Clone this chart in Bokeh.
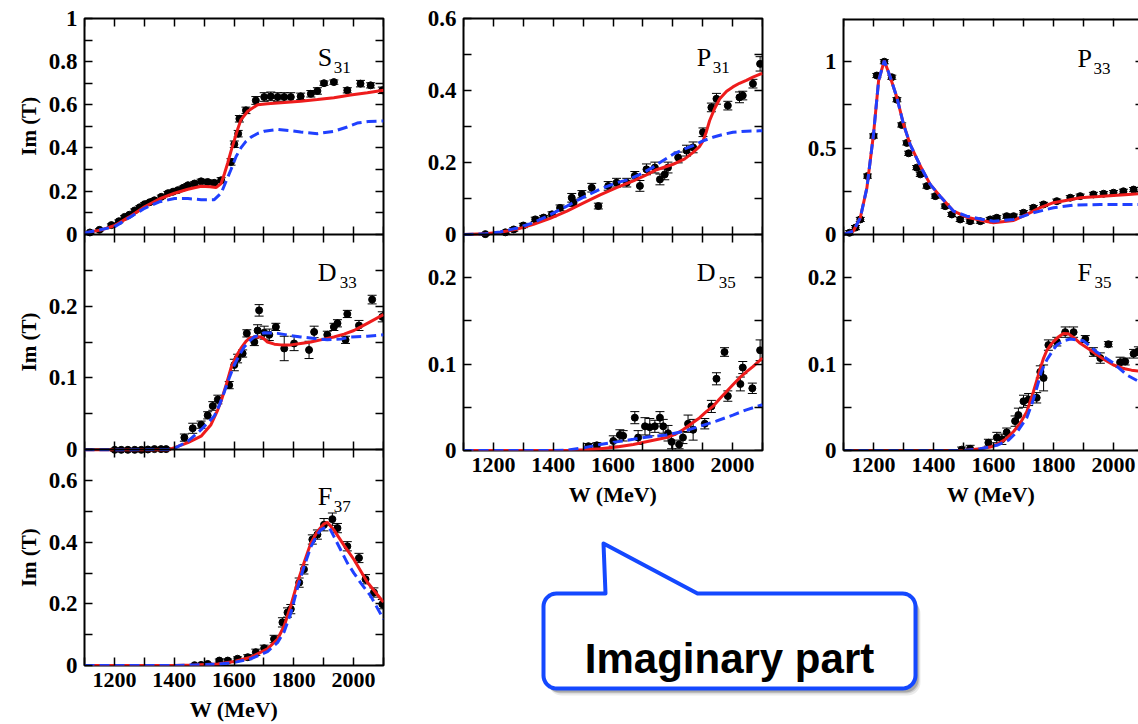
import numpy as np
from bokeh.plotting import figure
from bokeh.models import Range1d, LinearAxis, FixedTicker, NumeralTickFormatter, ColumnDataSource
from bokeh.layouts import row, column
from bokeh.embed import file_html
from bokeh.resources import INLINE
from bokeh.core.properties import value

# ======================= DATA =======================
X_MAJOR = [1200, 1400, 1600, 1800, 2000]
X_MINOR = [1100, 1300, 1500, 1700, 1900, 2100]

# ---- S31 ----
s31_w = [1118, 1150, 1190, 1215, 1234, 1250, 1268, 1285, 1301, 1318, 1334, 1357, 1379, 1396, 1412, 1430,
         1446, 1468, 1490, 1512, 1534, 1557, 1590, 1601, 1614, 1618, 1640, 1673, 1701, 1723, 1746, 1768,
         1790, 1823, 1857, 1879, 1901, 1934, 1979, 2023, 2057, 2096]
s31_v = [0.008, 0.02, 0.042, 0.06, 0.08, 0.09, 0.11, 0.125, 0.139, 0.148, 0.157, 0.173, 0.19, 0.197, 0.204, 0.215,
         0.227, 0.235, 0.245, 0.242, 0.238, 0.25, 0.335, 0.417, 0.466, 0.535, 0.574, 0.62, 0.636, 0.639, 0.636, 0.636,
         0.636, 0.639, 0.651, 0.664, 0.70, 0.705, 0.667, 0.698, 0.69, 0.667]
s31_e = [0.005, 0.005, 0.006, 0.006, 0.006, 0.006, 0.007, 0.007, 0.007, 0.007, 0.008, 0.008, 0.008, 0.008, 0.008, 0.008,
         0.008, 0.008, 0.01, 0.01, 0.01, 0.012, 0.015, 0.015, 0.015, 0.015, 0.015, 0.018, 0.02, 0.02, 0.02, 0.02,
         0.02, 0.015, 0.015, 0.015, 0.01, 0.01, 0.012, 0.015, 0.012, 0.015]
s31_rw = [1100, 1157, 1201, 1250, 1301, 1350, 1401, 1446, 1490, 1520, 1540, 1557, 1568, 1579, 1590, 1601, 1612,
          1623, 1646, 1679, 1712, 1768, 1823, 1879, 1934, 1990, 2046, 2100]
s31_rv = [0.005, 0.02, 0.04, 0.08, 0.127, 0.163, 0.19, 0.208, 0.222, 0.22, 0.216, 0.235, 0.28, 0.33, 0.385, 0.435,
          0.485, 0.53, 0.57, 0.60, 0.605, 0.61, 0.616, 0.624, 0.633, 0.645, 0.656, 0.667]
s31_bw = [1100, 1201, 1301, 1350, 1401, 1446, 1490, 1534, 1557, 1575, 1590, 1607, 1623, 1640, 1657, 1679, 1701,
          1746, 1790, 1823, 1879, 1934, 1979, 2012, 2050, 2100]
s31_bv = [0.005, 0.035, 0.12, 0.15, 0.165, 0.165, 0.16, 0.16, 0.19, 0.25, 0.30, 0.36, 0.40, 0.43, 0.45, 0.467,
          0.477, 0.486, 0.48, 0.474, 0.466, 0.477, 0.497, 0.515, 0.522, 0.525]

# ---- D33 ----
d33_w = [1201, 1223, 1245, 1268, 1290, 1312, 1334, 1356, 1373, 1434, 1462, 1490, 1512, 1529, 1546, 1584, 1601,
         1612, 1629, 1643, 1668, 1679, 1684, 1701, 1718, 1740, 1768, 1801, 1851, 1868, 1912, 1934, 1946, 1973,
         1979, 2018, 2062, 2096]
d33_v = [0.0, 0.0, 0.0, 0.0, 0.0, 0.0005, 0.001, 0.001, 0.001, 0.017, 0.03, 0.035, 0.048, 0.061, 0.07, 0.09, 0.118,
         0.127, 0.134, 0.162, 0.15, 0.166, 0.194, 0.163, 0.16, 0.171, 0.141, 0.148, 0.139, 0.164, 0.16, 0.171, 0.176,
         0.153, 0.189, 0.173, 0.209, 0.185]
d33_e = [0.002, 0.002, 0.002, 0.002, 0.002, 0.002, 0.002, 0.002, 0.002, 0.005, 0.007, 0.005, 0.005, 0.006, 0.006,
         0.005, 0.008, 0.006, 0.005, 0.005, 0.005, 0.008, 0.008, 0.009, 0.008, 0.005, 0.017, 0.01, 0.012, 0.008,
         0.005, 0.005, 0.005, 0.005, 0.005, 0.007, 0.006, 0.007]
d33_rw = [1100, 1379, 1401, 1446, 1490, 1523, 1545, 1557, 1575, 1590, 1607, 1623, 1640, 1651, 1668, 1690, 1701,
          1712, 1735, 1757, 1790, 1823, 1857, 1890, 1934, 1968, 2001, 2046, 2100]
d33_rv = [0.0, 0.0, 0.003, 0.01, 0.019, 0.035, 0.055, 0.068, 0.092, 0.114, 0.13, 0.141, 0.151, 0.155, 0.157, 0.157,
          0.154, 0.150, 0.147, 0.146, 0.146, 0.148, 0.15, 0.153, 0.157, 0.161, 0.166, 0.176, 0.188]
d33_bw = [1100, 1379, 1401, 1446, 1490, 1534, 1551, 1568, 1584, 1601, 1618, 1634, 1651, 1668, 1701, 1746, 1790,
          1823, 1868, 1912, 1957, 1990, 2046, 2100]
d33_bv = [0.0, 0.0005, 0.002, 0.012, 0.028, 0.047, 0.062, 0.081, 0.1, 0.118, 0.132, 0.143, 0.151, 0.157, 0.163,
          0.162, 0.159, 0.157, 0.155, 0.153, 0.154, 0.157, 0.158, 0.16]

# ---- F37 ----
f37_w = [1468, 1490, 1512, 1551, 1579, 1612, 1646, 1673, 1701, 1734, 1762, 1779, 1790, 1818, 1834, 1862, 1879,
         1901, 1929, 1946, 1979, 2018, 2040, 2068, 2096]
f37_v = [0.001, 0.002, 0.005, 0.016, 0.016, 0.022, 0.027, 0.043, 0.056, 0.086, 0.14, 0.172, 0.183, 0.269, 0.312,
         0.409, 0.425, 0.457, 0.475, 0.446, 0.387, 0.349, 0.28, 0.237, 0.199]
f37_e = [0.003, 0.003, 0.003, 0.005, 0.005, 0.006, 0.008, 0.01, 0.01, 0.012, 0.015, 0.015, 0.015, 0.015, 0.015,
         0.015, 0.015, 0.02, 0.02, 0.015, 0.015, 0.015, 0.015, 0.015, 0.015]
f37_rw = [1100, 1400, 1468, 1546, 1601, 1657, 1712, 1746, 1768, 1790, 1812, 1834, 1857, 1879, 1901, 1912, 1934,
          1968, 2001, 2046, 2100]
f37_rv = [0.0, 0.0, 0.002, 0.005, 0.013, 0.027, 0.054, 0.086, 0.129, 0.194, 0.269, 0.333, 0.398, 0.435, 0.46,
          0.465, 0.44, 0.39, 0.344, 0.27, 0.205]
f37_bw = [1100, 1400, 1468, 1546, 1601, 1657, 1712, 1746, 1768, 1790, 1812, 1834, 1857, 1879, 1890, 1907, 1920,
          1934, 1957, 1979, 2001, 2023, 2057, 2100]
f37_bv = [0.0, 0.0, 0.002, 0.004, 0.01, 0.022, 0.045, 0.075, 0.11, 0.17, 0.25, 0.32, 0.385, 0.425, 0.44, 0.449,
          0.445, 0.419, 0.375, 0.333, 0.3, 0.269, 0.226, 0.15]

# ---- P31 ----
p31_w = [1173, 1240, 1268, 1300, 1340, 1368, 1396, 1423, 1462, 1468, 1496, 1529, 1551, 1584, 1612, 1646, 1673,
         1690, 1712, 1740, 1757, 1773, 1784, 1818, 1846, 1868, 1901, 1929, 1946, 1984, 2023, 2034, 2068, 2092]
p31_v = [0.001, 0.006, 0.014, 0.025, 0.042, 0.047, 0.056, 0.074, 0.102, 0.088, 0.112, 0.13, 0.079, 0.135, 0.144,
         0.144, 0.163, 0.135, 0.181, 0.186, 0.153, 0.167, 0.186, 0.214, 0.233, 0.242, 0.284, 0.353, 0.377, 0.358,
         0.381, 0.386, 0.419, 0.474]
p31_e = [0.003, 0.004, 0.005, 0.006, 0.006, 0.006, 0.007, 0.008, 0.012, 0.01, 0.01, 0.012, 0.008, 0.012, 0.012,
         0.012, 0.012, 0.015, 0.015, 0.015, 0.015, 0.015, 0.015, 0.015, 0.015, 0.015, 0.012, 0.012, 0.015, 0.012,
         0.015, 0.012, 0.012, 0.02]
p31_rw = [1100, 1173, 1223, 1280, 1334, 1390, 1446, 1500, 1557, 1612, 1668, 1710, 1746, 1801, 1840, 1868, 1890,
          1901, 1912, 1923, 1940, 1957, 1980, 2001, 2023, 2046, 2068, 2090, 2100]
p31_rv = [0.0, 0.002, 0.0065, 0.015, 0.028, 0.045, 0.065, 0.087, 0.11, 0.13, 0.149, 0.165, 0.18, 0.195, 0.21,
          0.228, 0.245, 0.26, 0.285, 0.316, 0.35, 0.377, 0.398, 0.41, 0.42, 0.428, 0.437, 0.445, 0.447]
p31_bw = [1100, 1173, 1223, 1280, 1334, 1390, 1446, 1500, 1557, 1612, 1650, 1690, 1730, 1757, 1801, 1840, 1868,
          1901, 1934, 1968, 2001, 2046, 2090, 2100]
p31_bv = [0.0, 0.002, 0.007, 0.018, 0.033, 0.055, 0.079, 0.103, 0.126, 0.144, 0.152, 0.167, 0.185, 0.2, 0.223,
          0.238, 0.247, 0.26, 0.27, 0.278, 0.284, 0.287, 0.288, 0.288]

# ---- D35 ----
d35_w = [1518, 1546, 1601, 1623, 1634, 1673, 1684, 1707, 1723, 1740, 1757, 1768, 1784, 1796, 1821, 1834, 1851,
         1868, 1907, 1929, 1946, 1973, 1984, 2026, 2034, 2066, 2092]
d35_v = [0.005, 0.006, 0.011, 0.018, 0.017, 0.038, 0.015, 0.028, 0.027, 0.028, 0.038, 0.028, 0.02, 0.01, 0.007,
         0.015, 0.031, 0.024, 0.031, 0.051, 0.083, 0.114, 0.063, 0.077, 0.096, 0.072, 0.116]
d35_e = [0.003, 0.003, 0.006, 0.006, 0.006, 0.007, 0.008, 0.01, 0.01, 0.007, 0.007, 0.008, 0.009, 0.008, 0.005,
         0.007, 0.01, 0.012, 0.006, 0.007, 0.007, 0.005, 0.006, 0.008, 0.007, 0.006, 0.012]
d35_rw = [1100, 1450, 1500, 1557, 1612, 1668, 1723, 1779, 1810, 1834, 1862, 1890, 1912, 1934, 1957, 1979, 2001,
          2023, 2046, 2068, 2100]
d35_rv = [0.0, 0.0, 0.0008, 0.002, 0.004, 0.007, 0.011, 0.015, 0.019, 0.024, 0.031, 0.038, 0.045, 0.051, 0.06,
          0.068, 0.076, 0.084, 0.091, 0.097, 0.107]
d35_bw = [1100, 1400, 1446, 1500, 1557, 1612, 1668, 1723, 1779, 1834, 1890, 1945, 2001, 2046, 2100]
d35_bv = [0.0, 0.0, 0.0005, 0.003, 0.007, 0.01, 0.013, 0.016, 0.018, 0.022, 0.028, 0.034, 0.041, 0.047, 0.053]

# ---- P33 ----
p33_w = [1120, 1140, 1156, 1180, 1200, 1211, 1236, 1261, 1278, 1294, 1311, 1317, 1344, 1356, 1378, 1406, 1439,
         1461, 1489, 1522, 1556, 1589, 1611, 1644, 1667, 1700, 1733, 1767, 1811, 1856, 1889, 1933, 1967, 2000,
         2033, 2067, 2095]
p33_v = [0.01, 0.04, 0.087, 0.338, 0.57, 0.92, 1.0, 0.91, 0.78, 0.634, 0.53, 0.47, 0.387, 0.348, 0.28, 0.222,
         0.164, 0.116, 0.087, 0.077, 0.077, 0.087, 0.097, 0.106, 0.106, 0.126, 0.155, 0.174, 0.193, 0.213, 0.222,
         0.232, 0.236, 0.242, 0.25, 0.26, 0.262]
p33_e = [0.012] * len(p33_w)
p33_rw = [1100, 1133, 1156, 1178, 1200, 1217, 1236, 1256, 1278, 1300, 1322, 1356, 1389, 1422, 1467, 1511, 1556,
          1600, 1667, 1711, 1756, 1800, 1850, 1889, 1950, 2000, 2050, 2100]
p33_rv = [0.0, 0.02, 0.097, 0.27, 0.58, 0.89, 1.006, 0.91, 0.793, 0.638, 0.522, 0.397, 0.29, 0.222, 0.135, 0.10,
          0.083, 0.068, 0.081, 0.116, 0.155, 0.184, 0.2, 0.213, 0.22, 0.226, 0.232, 0.238]
p33_bw = [1100, 1133, 1156, 1178, 1200, 1217, 1236, 1256, 1278, 1300, 1322, 1356, 1389, 1422, 1467, 1511, 1556,
          1600, 1667, 1733, 1800, 1867, 1956, 2100]
p33_bv = [0.0, 0.02, 0.097, 0.27, 0.58, 0.89, 1.006, 0.91, 0.793, 0.638, 0.522, 0.397, 0.29, 0.222, 0.135, 0.106,
          0.09, 0.077, 0.087, 0.126, 0.155, 0.17, 0.174, 0.174]

# ---- F35 ----
f35_w = [1494, 1522, 1583, 1611, 1628, 1644, 1672, 1683, 1700, 1717, 1744, 1756, 1767, 1783, 1811, 1839, 1867,
         1906, 1933, 1956, 1983, 2022, 2039, 2067, 2083]
f35_v = [0.001, 0.002, 0.009, 0.015, 0.013, 0.021, 0.034, 0.041, 0.057, 0.059, 0.061, 0.091, 0.084, 0.122, 0.126,
         0.137, 0.137, 0.129, 0.114, 0.107, 0.123, 0.102, 0.103, 0.112, 0.115]
f35_e = [0.003, 0.004, 0.004, 0.006, 0.006, 0.005, 0.006, 0.008, 0.007, 0.007, 0.006, 0.007, 0.015, 0.006, 0.005,
         0.006, 0.006, 0.004, 0.005, 0.006, 0.003, 0.006, 0.004, 0.005, 0.005]
f35_rw = [1100, 1500, 1556, 1590, 1611, 1640, 1667, 1690, 1711, 1733, 1745, 1756, 1767, 1778, 1790, 1800, 1815,
          1833, 1850, 1870, 1889, 1920, 1944, 1970, 2000, 2033, 2060, 2100]
f35_rv = [0.0, 0.0, 0.002, 0.004, 0.007, 0.013, 0.022, 0.032, 0.045, 0.068, 0.082, 0.095, 0.107, 0.116, 0.122,
          0.126, 0.131, 0.1355, 0.135, 0.13, 0.124, 0.117, 0.111, 0.105, 0.099, 0.095, 0.093, 0.091]
f35_bw = [1100, 1500, 1556, 1611, 1650, 1680, 1711, 1730, 1744, 1760, 1778, 1800, 1811, 1833, 1856, 1880, 1900,
          1944, 2000, 2044, 2100]
f35_bv = [0.0, 0.0, 0.002, 0.006, 0.012, 0.022, 0.038, 0.056, 0.072, 0.092, 0.105, 0.117, 0.122, 0.127, 0.129,
          0.128, 0.127, 0.114, 0.101, 0.0875, 0.077]

Y_TITLE = "Im (T)"
X_TITLE = "W (MeV)"
CALLOUT_TEXT = "Imaginary part"

# ======================= STYLE =======================
SERIF = "Liberation Serif"
RED = "#ee1c1c"
BLUE = "#2040ff"
PX_PER_MEV = 0.3
PANEL_PX = 216


def panel(name, letter, sub, sub_dx, ymax, major, minor, w, v, e, rw, rv, bw, bv, lab_dy):
    return dict(name=name, letter=letter, sub=sub, sub_dx=sub_dx, ymax=ymax, major=major, minor=minor,
                w=w, v=v, e=e, rw=rw, rv=rv, bw=bw, bv=bv, lab_dy=lab_dy)


def style_axis(ax, labels=True, tin=8, tout=0, line=False, line_width=2, font_size="22px"):
    ax.axis_line_color = "black" if line else None
    ax.axis_line_width = line_width
    ax.major_tick_in = tin
    ax.major_tick_out = tout
    ax.minor_tick_in = tin
    ax.minor_tick_out = tout
    ax.major_tick_line_width = 1.5
    ax.minor_tick_line_width = 1.5
    ax.major_tick_line_color = "black"
    ax.minor_tick_line_color = "black"
    if labels:
        ax.major_label_text_font = SERIF
        ax.major_label_text_font_style = "bold"
        ax.major_label_text_font_size = font_size
        ax.major_label_text_color = "black"
    else:
        ax.major_label_text_color = None


def base_fig(width, height, x_range, y_range, bl, br, bt, bb):
    p = figure(width=width, height=height, x_range=x_range, y_range=y_range,
               output_backend="svg", toolbar_location=None, x_axis_location=None, y_axis_location=None,
               min_border_left=bl, min_border_right=br, min_border_top=bt, min_border_bottom=bb)
    p.grid.visible = False
    p.background_fill_color = "white"
    p.border_fill_color = "white"
    return p


def column_fig(panels, width, height, bl, br, bt, bb, x_end, open_right=False):
    n = len(panels)
    p = base_fig(width, height, Range1d(1100, x_end), Range1d(0, n), bl, br, bt, bb)
    if open_right:
        p.outline_line_color = None
    else:
        p.outline_line_color = "black"
        p.outline_line_width = 2
    extra = {}
    for i, sp in enumerate(panels):
        k = n - 1 - i
        extra[sp["name"]] = Range1d(-k * sp["ymax"], (n - k) * sp["ymax"])
    p.extra_y_ranges = extra

    yticks, yminor, ylabels = [], [], {}
    for i, sp in enumerate(panels):
        nm = sp["name"]
        ym = sp["ymax"]
        k = n - 1 - i
        lo = [a - b for a, b in zip(sp["v"], sp["e"])]
        hi = [a + b for a, b in zip(sp["v"], sp["e"])]
        src = ColumnDataSource(dict(w=sp["w"], v=sp["v"], lo=lo, hi=hi))
        p.segment("w", "lo", "w", "hi", source=src, line_color="black", line_width=1, y_range_name=nm)
        p.scatter("w", "lo", source=src, marker="dash", size=9, line_color="black", line_width=1,
                  y_range_name=nm)
        p.scatter("w", "hi", source=src, marker="dash", size=9, line_color="black", line_width=1,
                  y_range_name=nm)
        p.scatter("w", "v", source=src, marker="circle", size=7, fill_color="black", line_color="black",
                  y_range_name=nm)
        p.line(sp["rw"], sp["rv"], line_color=RED, line_width=3, y_range_name=nm)
        p.line(sp["bw"], sp["bv"], line_color=BLUE, line_width=3, line_dash="10 5", y_range_name=nm)

        # panel label (letter + subscript)
        lx = 1100 + 234 / PX_PER_MEV
        ly = ym * (1 - sp["lab_dy"] / PANEL_PX)
        p.text([lx], [ly], text=[sp["letter"]], text_font=value(SERIF), text_font_size="26px",
               text_align="left", text_baseline="alphabetic", text_color="black", y_range_name=nm)
        p.text([lx], [ly], text=[sp["sub"]], x_offset=sp["sub_dx"], y_offset=10, text_font=value(SERIF),
               text_font_size="17px", text_align="left", text_baseline="alphabetic", text_color="black",
               y_range_name=nm)

        for t in sp["major"]:
            pos = k + t / ym
            yticks.append(pos)
            ylabels[pos] = f"{t:g}"
        for t in sp["minor"]:
            yminor.append(k + t / ym)

    yt = FixedTicker(ticks=yticks, minor_ticks=yminor)
    la = LinearAxis(ticker=yt, major_label_overrides=ylabels)
    style_axis(la, line=open_right, font_size="23px")
    la.major_label_standoff = 7
    p.add_layout(la, "left")
    ra = LinearAxis(ticker=yt, fixed_location=2100)
    style_axis(ra, labels=False)
    p.add_layout(ra, "right")

    xt = FixedTicker(ticks=X_MAJOR, minor_ticks=X_MINOR)
    bot = LinearAxis(ticker=xt, formatter=NumeralTickFormatter(format="0"), axis_label=X_TITLE)
    style_axis(bot, line=open_right)
    bot.major_label_standoff = 7
    bot.axis_label_standoff = 7
    bot.axis_label_text_font = SERIF
    bot.axis_label_text_font_style = "bold"
    bot.axis_label_text_font_size = "22px"
    bot.axis_label_text_color = "black"
    p.add_layout(bot, "below")
    top = LinearAxis(fixed_location=n, ticker=xt)
    style_axis(top, labels=False, line=open_right, line_width=4)
    p.add_layout(top, "above")
    for b in range(1, n):
        mid = LinearAxis(fixed_location=b, ticker=xt)
        style_axis(mid, labels=False, tin=8, tout=8, line=True)
        p.add_layout(mid, "below")
    return p


left_panels = [
    panel("s31", "S", "31", 16, 1.0, [0, 0.2, 0.4, 0.6, 0.8, 1.0], [0.1, 0.3, 0.5, 0.7, 0.9],
          s31_w, s31_v, s31_e, s31_rw, s31_rv, s31_bw, s31_bv, 39),
    panel("d33", "D", "33", 22, 0.3, [0, 0.1, 0.2], [0.05, 0.15, 0.25],
          d33_w, d33_v, d33_e, d33_rw, d33_rv, d33_bw, d33_bv, 38),
    panel("f37", "F", "37", 16, 0.7, [0, 0.2, 0.4, 0.6], [0.1, 0.3, 0.5],
          f37_w, f37_v, f37_e, f37_rw, f37_rv, f37_bw, f37_bv, 47),
]
mid_panels = [
    panel("p31", "P", "31", 16, 0.6, [0, 0.2, 0.4, 0.6], [0.1, 0.3, 0.5],
          p31_w, p31_v, p31_e, p31_rw, p31_rv, p31_bw, p31_bv, 39),
    panel("d35", "D", "35", 22, 0.25, [0, 0.1, 0.2], [0.05, 0.15],
          d35_w, d35_v, d35_e, d35_rw, d35_rv, d35_bw, d35_bv, 38),
]
right_panels = [
    panel("p33", "P", "33", 16, 1.25, [0, 0.5, 1.0], [0.25, 0.75],
          p33_w, p33_v, p33_e, p33_rw, p33_rv, p33_bw, p33_bv, 40),
    panel("f35", "F", "35", 17, 0.25, [0, 0.1, 0.2], [0.05, 0.15],
          f35_w, f35_v, f35_e, f35_rw, f35_rv, f35_bw, f35_bv, 38),
]

FULL_H = 724
p_left = column_fig(left_panels, 348, FULL_H, 38, 10, 18, 58, 2100)
p_mid = column_fig(mid_panels, 379, 512, 70, 10, 18, 62, 2100)
p_right = column_fig(right_panels, 366, 512, 71, 0, 18, 62, 1100 + 295 / PX_PER_MEV, open_right=True)

# ---------------- strip holding the rotated y titles ----------------
ps = base_fig(45, FULL_H, Range1d(0, 45), Range1d(0, len(left_panels)), 0, 0, 18, 58)
ps.outline_line_color = None
ps.text([28] * len(left_panels), [k + 0.5 for k in range(len(left_panels))], text=[Y_TITLE] * len(left_panels),
        angle=np.pi / 2, text_font=value(SERIF), text_font_style="bold", text_font_size="21px",
        text_align="center", text_baseline="alphabetic", text_color="black")

# ---------------- callout bubble ----------------
BW, BH = 745, FULL_H - 512
pb = base_fig(BW, BH, Range1d(0, BW), Range1d(0, BH), 0, 0, 0, 0)
pb.outline_line_color = None


def bubble_path(x0, x1, y0, y1, r, tail_l, apex, tail_r):
    xs, ys = [x0 + r, tail_l, apex[0], tail_r, x1 - r], [y1, y1, apex[1], y1, y1]
    arcs = [((x1 - r, y1 - r), np.pi / 2, 0), ((x1 - r, y0 + r), 0, -np.pi / 2),
            ((x0 + r, y0 + r), -np.pi / 2, -np.pi), ((x0 + r, y1 - r), np.pi, np.pi / 2)]
    for (cx, cy), a0, a1 in arcs:
        for a in np.linspace(a0, a1, 10):
            xs.append(cx + r * np.cos(a))
            ys.append(cy + r * np.sin(a))
    return xs, ys


bx, by = bubble_path(150, 522, 36, 131, 13, 212, (210, 181), 304)
for dx, dy, al in [(5, -7, 0.08), (4, -5, 0.12), (3, -4, 0.18)]:
    pb.patch([x + dx for x in bx], [y + dy for y in by], fill_color="black", fill_alpha=al, line_color=None)
pb.patch(bx, by, fill_color="white", line_color="#1448ff", line_width=4, line_join="round")
pb.text([336], [66], text=[CALLOUT_TEXT], text_font=value("Liberation Sans"), text_font_style="bold",
        text_font_size="42px", text_align="center", text_baseline="alphabetic", text_color="black")

layout = row(ps, p_left, column(row(p_mid, p_right), pb))
open("out.html", "w").write(file_html(layout, INLINE))
